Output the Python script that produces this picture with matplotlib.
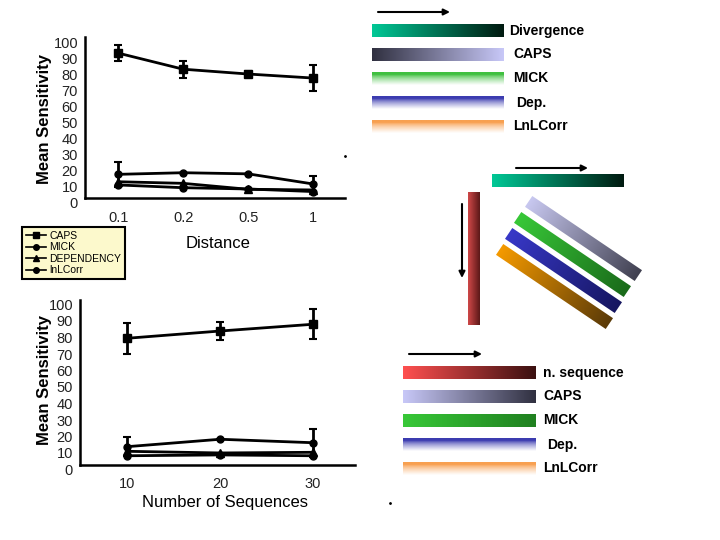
import numpy as np
import matplotlib
matplotlib.use("Agg")
import matplotlib.pyplot as plt
from matplotlib.colors import to_rgb
from matplotlib.transforms import Affine2D, ScaledTranslation

plt.rcParams['font.family'] = ['Liberation Sans', 'DejaVu Sans']

# dane - wykres odleglosci
dist_labels = ['0.1', '0.2', '0.5', '1']
caps_d = [90, 80, 77, 74.5]
caps_d_err = [5.2, 5.3, 1.6, 8]
mick_d = [14.7, 15.7, 15, 8.7]
mick_d_err = [7.8, 0, 0, 5.2]
dep_d = [10.1, 9.1, 5.4, 5]
lnl_d = [8.1, 6.4, 5.6, 4]

# dane - wykres liczby sekwencji
seq_labels = ['10', '20', '30']
caps_s = [76.8, 81.2, 85.3]
caps_s_err = [9.3, 5.6, 9.1]
mick_s = [11.1, 15.6, 13.5]
mick_s_err = [5.9, 0, 8.4]
dep_s = [8.3, 7.3, 7.7]
lnl_s = [5.6, 6.1, 5.6]

series_names = ['CAPS', 'MICK', 'DEPENDENCY', 'lnLCorr']

# paski z gradientem (prawa strona)
top_names = ['Divergence', 'CAPS', 'MICK', 'Dep.', 'LnLCorr']
top_cols = [('#00c896', '#001a10', 'h'), ('#303040', '#c8c8f8', 'h'),
            ('#40c040', None, 'v'), ('#3c3cb0', None, 'v'), ('#f8a050', None, 'v')]
bot_names = ['n. sequence', 'CAPS', 'MICK', 'Dep.', 'LnLCorr']
bot_cols = [('#ff5050', '#3a1010', 'h'), ('#c8c8f8', '#303040', 'h'),
            ('#38c838', '#208020', 'h'), ('#3c3cb0', None, 'v'), ('#f8a050', None, 'v')]
diag_cols = [('#c8c8f0', '#404050'), ('#38c838', '#1a6a1a'),
             ('#3838c8', '#161660'), ('#f59a00', '#5a3a08')]

W, H = 720, 540
fig = plt.figure(figsize=(7.2, 5.4), dpi=100)


def px_box(l, t, r, b):
    return [l / W, 1 - b / H, (r - l) / W, (b - t) / H]


ov = fig.add_axes([0, 0, 1, 1], zorder=0)
ov.set_xlim(0, W)
ov.set_ylim(H, 0)
ov.axis('off')


def grad_img(c0, c1, mode, n=256):
    a = np.array(to_rgb(c0))
    if mode == 'h':
        b = np.array(to_rgb(c1))
        t = np.linspace(0, 1, n)[None, :, None]
        rgb = a * (1 - t) + b * t
    else:
        t = np.linspace(0, 1, n)[:, None, None]
        f = np.clip((t - 0.2) / 0.8, 0, 1) ** 0.7
        rgb = a * (1 - f) + np.ones(3) * f
    alpha = np.ones(rgb.shape[:2] + (1,))
    return np.concatenate([rgb, alpha], axis=2)


def bar(x0, y0, w, h, c0, c1, mode):
    ov.imshow(grad_img(c0, c1, mode), extent=(x0, x0 + w, y0 + h, y0),
              aspect='auto', interpolation='bilinear')


def diag_bar(cx, cy, length, width, ang, c0, c1):
    im = ov.imshow(np.repeat(grad_img(c0, c1, 'h'), 8, axis=0),
                   extent=(cx - length / 2, cx + length / 2, cy + width / 2, cy - width / 2),
                   aspect='auto', interpolation='bilinear')
    im.set_transform(Affine2D().rotate_deg_around(cx, cy, ang) + ov.transData)


def arrow(x0, y0, x1, y1):
    ov.annotate('', xy=(x1, y1), xytext=(x0, y0),
                arrowprops=dict(arrowstyle='-|>', color='k', lw=1.5, mutation_scale=9,
                                shrinkA=0, shrinkB=0))


# grupa gorna
arrow(378, 12, 450, 12)
for i, (name, (c0, c1, m)) in enumerate(zip(top_names, top_cols)):
    y = 24 + i * 24
    bar(372, y, 132, 13, c0, c1, m)
    ov.text(509 if i == 0 else 513 + (3 if name == 'Dep.' else 0), y + 6.5, name,
            fontsize=10, fontweight='bold', va='center', ha='left')

# teal pasek + strzalka
arrow(516, 168, 588, 168)
bar(492, 174, 132, 13, '#00c896', '#001a10', 'h')

# czerwony pionowy
arrow(462, 204, 462, 278)
bar(468, 192, 12, 133, '#d04848', '#5a1818', 'h')

# paski ukosne
diag_centers = [(583, 239), (572, 255), (563, 271), (554, 287)]
for (cx, cy), (c0, c1) in zip(diag_centers, diag_cols):
    diag_bar(cx, cy, 132, 13, 34, c0, c1)

# grupa dolna
arrow(409, 354, 482, 354)
for i, (name, (c0, c1, m)) in enumerate(zip(bot_names, bot_cols)):
    y = 366 + i * 24
    bar(403, y, 133, 13, c0, c1, m)
    ov.text(543 + (4 if name == 'Dep.' else 0), y + 6.5, name,
            fontsize=10, fontweight='bold', va='center', ha='left')

ov.plot([345, 390], [156, 503], 'k.', markersize=2)


def style_axes(ax, labels, xlim, shift):
    ax.set_facecolor('none')
    ax.set_xlim(*xlim)
    ax.set_ylim(0, 100)
    ax.set_yticks(range(0, 101, 10))
    ax.set_xticks(range(len(labels)))
    ax.set_xticklabels(labels)
    for s in ['top', 'right']:
        ax.spines[s].set_visible(False)
    for s in ['left', 'bottom']:
        ax.spines[s].set_linewidth(1.8)
    ax.tick_params(length=0, labelsize=10.5, colors='#222222')
    ax.tick_params(axis='x', pad=9)
    ax.tick_params(axis='y', pad=5)
    off = ScaledTranslation(0, -shift / 100, fig.dpi_scale_trans)
    for lab in ax.get_yticklabels():
        lab.set_transform(lab.get_transform() + off)
    ax.set_ylabel('Mean Sensitivity', fontsize=12, fontweight='bold', labelpad=2)


def draw_series(ax, caps, caps_err, mick, mick_err, dep, lnl):
    x = np.arange(len(caps))
    kw = dict(color='k', lw=2)
    h1, = ax.plot(x, caps, marker='s', ms=6, **kw)
    h2, = ax.plot(x, mick, marker='o', ms=5, **kw)
    h3, = ax.plot(x, dep, marker='^', ms=6, **kw)
    h4, = ax.plot(x, lnl, marker='o', ms=5, **kw)
    ax.errorbar(x, caps, yerr=caps_err, fmt='none', ecolor='k', elinewidth=2, capsize=3, capthick=1.5)
    ax.errorbar(x, mick, yerr=mick_err, fmt='none', ecolor='k', elinewidth=2, capsize=3, capthick=1.5)
    return [h1, h2, h3, h4]


ax1 = fig.add_axes(px_box(85, 37, 345, 198), zorder=2)
handles = draw_series(ax1, caps_d, caps_d_err, mick_d, mick_d_err, dep_d, lnl_d)
style_axes(ax1, dist_labels, (-0.51, 3.49), 5)
ax1.yaxis.set_label_coords(-0.127, 0.49)
fig.text(218 / W, 1 - 244 / H, 'Distance', fontsize=12, ha='center', va='center')

ax2 = fig.add_axes(px_box(80, 300, 355, 465), zorder=2)
draw_series(ax2, caps_s, caps_s_err, mick_s, mick_s_err, dep_s, lnl_s)
style_axes(ax2, seq_labels, (-0.505, 2.45), 4.5)
ax2.yaxis.set_label_coords(-0.102, 0.515)
fig.text(225 / W, 1 - 503 / H, 'Number of Sequences', fontsize=12, ha='center', va='center')

leg = fig.legend(handles, series_names, loc='upper left', bbox_to_anchor=(22 / W, 1 - 227 / H),
                 facecolor='#fcf9cc', edgecolor='k', framealpha=1, fancybox=False,
                 fontsize=7.5, handlelength=2.0, handletextpad=0.3, borderpad=0.35,
                 labelspacing=0.15, borderaxespad=0)
leg.get_frame().set_linewidth(1.5)
for lh in leg.legend_handles:
    lh.set_linewidth(1.2)
    lh.set_markersize(4)

fig.savefig('out.png', dpi=100)
